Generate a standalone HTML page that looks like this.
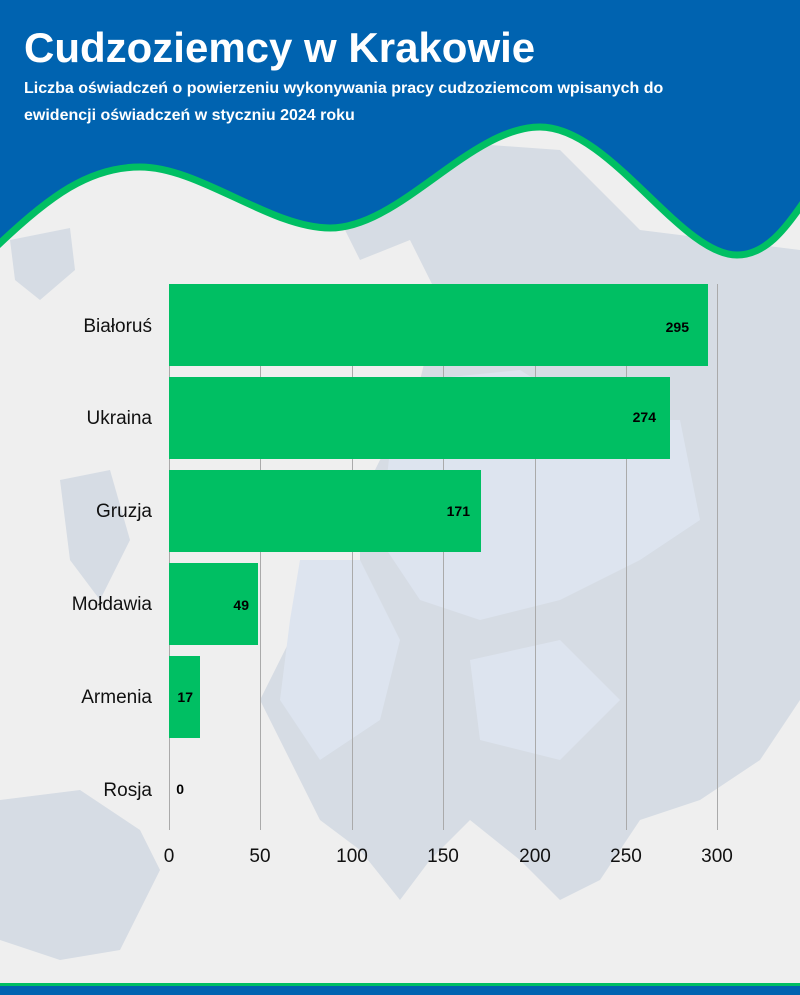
<!DOCTYPE html>
<html><head><meta charset="utf-8"><style>
body{margin:0;width:800px;height:995px;overflow:hidden;background:#efefef;}
svg{position:absolute;left:0;top:0}
</style></head><body>
<svg width="800" height="995" viewBox="0 0 800 995">
<rect width="800" height="995" fill="#efefef"/>
<g fill="#d6dce4">
<path d="M10 240 L70 228 L75 270 L40 300 L15 280 Z"/>
<path d="M330 150 L420 140 L560 150 L640 230 L800 250 L800 700 L760 760 L700 800 L640 820 L600 880 L560 900 L520 860 L470 820 L430 860 L400 900 L360 850 L320 820 L290 760 L260 700 L290 640 L330 600 L360 560 L360 500 L390 440 L420 380 L440 300 L410 240 L360 260 L340 220 Z"/>
<path d="M0 800 L80 790 L140 830 L160 870 L120 950 L60 960 L0 940 Z"/>
<path d="M60 480 L110 470 L130 540 L100 600 L70 560 Z"/>
</g>
<g fill="#dde4ef">
<path d="M420 380 L520 370 L600 420 L680 420 L700 520 L640 560 L560 600 L480 620 L420 600 L380 540 L390 450 Z"/>
<path d="M300 560 L360 560 L400 640 L380 720 L320 760 L280 700 L290 620 Z"/>
<path d="M470 660 L560 640 L620 700 L560 760 L480 740 Z"/>
</g>
<path d="M-5 -5 H805 V200 C785 230 765 255 737 255 C680 255 610 127 540 127 C470 127 400 228 330 228 C270 228 200 167 140 167 C90 167 50 195 -5 248 Z" fill="#0063b0"/>
<path d="M805 200 C785 230 765 255 737 255 C680 255 610 127 540 127 C470 127 400 228 330 228 C270 228 200 167 140 167 C90 167 50 195 -5 248" fill="none" stroke="#00bf63" stroke-width="7"/>
<rect x="0" y="983" width="800" height="12" fill="#0063b0"/>
<rect x="0" y="983" width="800" height="3" fill="#00bf63"/>
<text x="24" y="62" fill="#fff" font-family="Liberation Sans,sans-serif" font-weight="bold" font-size="42">Cudzoziemcy w Krakowie</text>
<text x="24" y="93" fill="#fff" font-family="Liberation Sans,sans-serif" font-weight="bold" font-size="16">Liczba oświadczeń o powierzeniu wykonywania pracy cudzoziemcom wpisanych do</text>
<text x="24" y="120" fill="#fff" font-family="Liberation Sans,sans-serif" font-weight="bold" font-size="16">ewidencji oświadczeń w styczniu 2024 roku</text>
<g stroke="#aaa" stroke-width="1">
<line x1="169.5" y1="284" x2="169.5" y2="830"/>
<line x1="260.5" y1="284" x2="260.5" y2="830"/>
<line x1="352.5" y1="284" x2="352.5" y2="830"/>
<line x1="443.5" y1="284" x2="443.5" y2="830"/>
<line x1="535.5" y1="284" x2="535.5" y2="830"/>
<line x1="626.5" y1="284" x2="626.5" y2="830"/>
<line x1="717.5" y1="284" x2="717.5" y2="830"/>
</g>
<g fill="#00bf63">
<rect x="169" y="284" width="539" height="82"/>
<rect x="169" y="377" width="501" height="82"/>
<rect x="169" y="470" width="312" height="82"/>
<rect x="169" y="563" width="89" height="82"/>
<rect x="169" y="656" width="31" height="82"/>
</g>
<g font-family="Liberation Sans,sans-serif" font-size="14" font-weight="bold" fill="#000" text-anchor="end">
<text x="689" y="332">295</text>
<text x="656" y="422">274</text>
<text x="470" y="516">171</text>
<text x="249" y="610">49</text>
<text x="193" y="702">17</text>
<text x="184" y="794">0</text>
</g>
<g font-family="Liberation Sans,sans-serif" font-size="19" fill="#111" text-anchor="end">
<text x="152" y="332">Białoruś</text>
<text x="152" y="424">Ukraina</text>
<text x="152" y="517">Gruzja</text>
<text x="152" y="610">Mołdawia</text>
<text x="152" y="703">Armenia</text>
<text x="152" y="796">Rosja</text>
</g>
<g font-family="Liberation Sans,sans-serif" font-size="19" fill="#111" text-anchor="middle">
<text x="169" y="862">0</text>
<text x="260" y="862">50</text>
<text x="352" y="862">100</text>
<text x="443" y="862">150</text>
<text x="535" y="862">200</text>
<text x="626" y="862">250</text>
<text x="717" y="862">300</text>
</g>
</svg>
</body></html>
